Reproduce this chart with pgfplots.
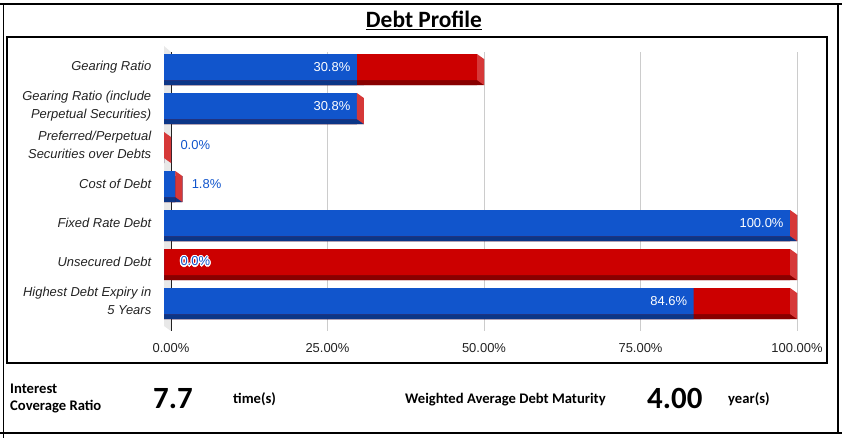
\documentclass[border=0pt]{standalone}
\usepackage{fontspec}
\setmainfont{Liberation Sans}
\newfontfamily\calibri{Carlito}
\usepackage{pgfplots}
\usepackage{pgfplotstable}
\usepackage{contour}
\pgfplotsset{compat=1.18}
\contourlength{1.1pt}

\definecolor{bfront}{RGB}{17,85,204}
\definecolor{bdark}{RGB}{12,54,135}
\definecolor{rfront}{RGB}{204,0,0}
\definecolor{rdark}{RGB}{136,0,0}
\definecolor{rside}{RGB}{214,56,56}
\definecolor{wall}{RGB}{232,232,232}
\definecolor{gridc}{RGB}{204,204,204}
\definecolor{txt}{RGB}{34,34,34}

% blue = first segment, total = blue + red
% mode: 1 label inside, 0 label beside, 2 label beside with white halo
\pgfplotstableread{
row blue total mode
0 30.8 50.0 1
1 30.8 30.8 1
2 0.0 0.0 0
3 1.8 1.8 0
4 100.0 100.0 1
5 0.0 100.0 2
6 84.6 100.0 1
}\debt

% right-hand face of a bar, drawn at the end of the bar
\pgfdeclareplotmark{sideface}{%
  \pgfpathmoveto{\pgfpoint{-7bp}{18bp}}%
  \pgfpathlineto{\pgfpoint{0bp}{13bp}}%
  \pgfpathlineto{\pgfpoint{0bp}{-13bp}}%
  \pgfpathlineto{\pgfpoint{-7bp}{-8bp}}%
  \pgfpathclose
  \pgfusepathqfill}

\begin{document}
\begin{tikzpicture}
  \begin{scope}[x=1bp,y=1bp]
  \useasboundingbox (0,0) rectangle (842,-438);

  % frame
  \draw[line width=1.2bp] (0,-4) -- (842,-4);
  \draw[line width=1.2bp] (0,-433) -- (842,-433);
  \draw[line width=1bp] (3,-4) -- (3,-438);
  \draw[line width=1.2bp] (838,-4) -- (838,-433);
  \draw[line width=1.3bp] (7,-37) rectangle (827,-363);

  \node[font=\calibri\bfseries\fontsize{23.5}{28}\selectfont, anchor=base]
    at (424,-28) {\underline{Debt Profile}};

  % bottom key figures
  \begin{scope}[every node/.style={inner sep=0pt, anchor=base west}]
    \node[font=\calibri\bfseries\fontsize{14.7}{17}\selectfont] at (10,-393) {Interest};
    \node[font=\calibri\bfseries\fontsize{14.7}{17}\selectfont] at (10,-410) {Coverage Ratio};
    \node[font=\calibri\bfseries\fontsize{31}{36}\selectfont] at (153,-408) {7.7};
    \node[font=\calibri\bfseries\fontsize{14.7}{17}\selectfont] at (233,-403) {time(s)};
    \node[font=\calibri\bfseries\fontsize{14.7}{17}\selectfont] at (405,-403) {Weighted Average Debt Maturity};
    \node[font=\calibri\bfseries\fontsize{31}{36}\selectfont] at (647,-408) {4.00};
    \node[font=\calibri\bfseries\fontsize{14.7}{17}\selectfont] at (728,-403) {year(s)};
  \end{scope}
  \end{scope}

  \begin{axis}[
    scale only axis,
    width=626bp, height=279bp,
    at={(171bp,-331bp)}, anchor=south west,
    xbar,
    clip=false,
    /pgf/number format/assume math mode=true,
    xmin=0, xmax=100,
    ymin=-0.513, ymax=6.641,
    y dir=reverse,
    axis line style={draw=none},
    tick style={draw=none},
    xtick={0,25,50,75,100},
    xticklabel={\pgfmathprintnumber[fixed,fixed zerofill,precision=2]{\tick}\%},
    xticklabel style={font=\fontsize{13}{15}\selectfont, text=txt, yshift=-9bp},
    ytick={0,...,6},
    yticklabels={Gearing Ratio,
      {Gearing Ratio (include\\Perpetual Securities)},
      {Preferred/Perpetual\\Securities over Debts},
      Cost of Debt, Fixed Rate Debt, Unsecured Debt,
      {Highest Debt Expiry in\\5 Years}},
    yticklabel style={font=\itshape\fontsize{13}{17.5}\selectfont, text=txt,
      align=right, yshift=5bp, xshift=-12bp},
    xmajorgrids,
    grid style={gridc, line width=1bp},
    every axis plot/.append style={bar shift=0pt, bar width=26bp, draw=none},
  ]
    % back wall and zero line
    \fill[wall] ([xshift=-7bp,yshift=6bp]axis cs:0,-0.513) -- (axis cs:0,-0.513)
      -- (axis cs:0,6.641) -- ([xshift=-7bp,yshift=5bp]axis cs:0,6.641) -- cycle;
    \draw[line width=1bp, txt] (axis cs:0,-0.513) -- (axis cs:0,6.641);

    % dark lower faces
    \addplot[fill=rdark] table[x=total, y=row] {\debt};
    \addplot[fill=bdark] table[x=blue, y=row] {\debt};
    \addplot[fill=rdark, xshift=-7bp] table[x=total, y=row] {\debt};
    \addplot[fill=bdark, xshift=-7bp] table[x=blue, y=row] {\debt};

    % right faces
    \addplot[sharp plot, draw=none, mark=sideface, mark options={fill=rside, draw=none}]
      table[x=total, y=row] {\debt};

    % front faces
    \addplot[fill=rfront, xshift=-7bp, yshift=5bp] table[x=total, y=row] {\debt};
    \addplot[fill=bfront, xshift=-7bp, yshift=5bp] table[x=blue, y=row] {\debt};

    % value labels inside the bars
    \addplot[fill=none, point meta=x,
      restrict expr to domain={\thisrow{mode}}{1:1},
      nodes near coords={\pgfmathprintnumber[fixed,fixed zerofill,precision=1]{\pgfplotspointmeta}\%},
      nodes near coords style={anchor=east, text=white, xshift=-10bp, yshift=5bp,
        font=\fontsize{13}{15}\selectfont}]
      table[x=blue, y=row] {\debt};

    % value labels beside the bars
    \addplot[fill=none, point meta=x,
      restrict expr to domain={\thisrow{mode}}{0:0},
      nodes near coords={\pgfmathprintnumber[fixed,fixed zerofill,precision=1]{\pgfplotspointmeta}\%},
      nodes near coords style={anchor=west, text=bfront, xshift=6bp, yshift=5bp,
        font=\fontsize{13}{15}\selectfont}]
      table[x=blue, y=row] {\debt};

    % label over the red bar, with a white halo
    \addplot[fill=none, point meta=x,
      restrict expr to domain={\thisrow{mode}}{2:2},
      nodes near coords={\contour{white}{\pgfmathprintnumber[fixed,fixed zerofill,precision=1]{\pgfplotspointmeta}\%}},
      nodes near coords style={anchor=west, text=bfront, xshift=6bp, yshift=5bp,
        font=\fontsize{13}{15}\selectfont}]
      table[x=blue, y=row] {\debt};
  \end{axis}
\end{tikzpicture}
\end{document}
